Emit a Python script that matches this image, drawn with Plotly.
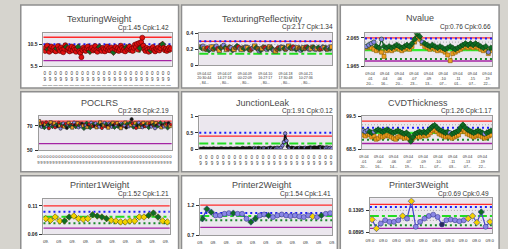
import numpy as np
import plotly.graph_objects as go

W, H = 508, 249

# ---------------- data ----------------
titles = ["TexturingWeight", "TexturingReflectivity", "Nvalue",
          "POCLRS", "JunctionLeak", "CVDThickness",
          "Printer1Weight", "Printer2Weight", "Printer3Weight"]
cp_values = ["1.45", "2.17", "0.76", "2.58", "1.91", "1.26", "1.52", "1.54", "0.69"]
cpk_values = ["1.42", "1.34", "0.66", "2.19", "0.12", "1.17", "1.21", "1.41", "0.49"]

y_ranges = [[5.5, 13.0], [0, 0.4], [1.965, 2.081],
            [50, 78], [0, 1], [68.5, 99.5],
            [0.06, 0.122], [0.7, 1.297], [0.088, 0.167]]
y_ticks = [[5.5, 10.5], [0, 0.2, 0.4], [1.965, 2.065],
           [50, 70], [0, 0.5, 1], [68.5, 99.5],
           [0.06, 0.11], [0.7, 1.2], [0.0895, 0.1395]]

# control / spec limits per chart
usl = [12.1, 0.30, 2.065, 74.0, 0.40, 94.9, 0.110, 1.20, 0.153]
ucl = [10.5, 0.30, 2.063, None, 0.50, 88.6, 0.0997, 1.07, 0.147]
cl_dashdot = [None, 0.145, None, None, 0.18, None, 0.091, 1.02, 0.127]
cl_solid = [None, None, 2.022, None, None, 84.0, None, None, None]
lcl = [8.8, None, 1.991, None, None, 77.6, 0.0795, 0.95, 0.106]
lsl = [6.8, None, 1.984, 55.6, None, 74.0, 0.071, 0.83, 0.099]
ref_lines = [[], [0.26, 0.17], [2.05], [], [], [91.5], [], [], [0.1395, 0.117]]

p1_vals = [9.6, 9.0, 9.8, 10.2, 9.3, 8.8, 9.5, 10.0, 9.2, 9.7, 9.1, 8.9, 9.6, 10.1, 9.4, 9.0, 9.8, 9.3, 8.7, 9.5,
           10.3, 9.9, 9.2, 9.6, 8.9, 9.4, 10.0, 9.1, 9.7, 9.3, 8.8, 9.5, 9.9, 9.0, 8.6, 7.6, 9.2, 9.8, 9.4, 9.0,
           9.6, 10.0, 9.3, 8.9, 9.5, 9.8, 9.1, 9.4, 10.1, 9.2, 8.8, 9.6, 9.9, 9.3, 9.0, 9.7, 9.4, 8.9, 9.5, 10.0,
           9.2, 9.6, 9.1, 9.8, 9.3, 8.7, 9.5, 9.9, 9.2, 9.6, 9.0, 9.4, 10.2, 9.7, 9.1, 9.5, 8.9, 9.8, 9.3, 9.6,
           10.0, 9.2, 9.5, 9.0, 9.7, 10.4, 9.9, 10.6, 9.3, 10.8, 9.6, 11.0, 12.0, 10.2, 9.4, 9.0, 9.7, 9.3, 8.8, 9.5,
           9.1, 9.6, 9.9, 9.2, 8.9, 9.5, 9.3, 9.8, 9.1, 9.6, 10.3, 10.5, 9.7, 9.2, 9.5, 9.0, 9.4, 9.8, 9.3, 9.6]
p1_grp = "RRRRGRRRRRRRGRRRRRRRRGRRRRRRRRRRGRRRRRRRRRRGRRRRRRRRGRRRRRRRRRRRRGRRRRRRRRRRRGRRRRRRRRRRRRGRRRRRRRRRGRRRRRRRRRRGRRRRRRRRRRRR"
p1_xlabels = ["0<br>9<br>—"] * 24

p2_vals = [0.23, 0.22, 0.24, 0.21, 0.20, 0.22, 0.19, 0.21, 0.23, 0.20, 0.22, 0.24, 0.21, 0.19, 0.22, 0.23, 0.25, 0.22,
           0.20, 0.21, 0.23, 0.22, 0.19, 0.20, 0.22, 0.24, 0.23, 0.21, 0.20, 0.22, 0.21, 0.23, 0.22, 0.20, 0.19, 0.21,
           0.22, 0.24, 0.22, 0.21, 0.18, 0.19, 0.21, 0.23, 0.22, 0.20, 0.21, 0.23, 0.22, 0.20, 0.19, 0.18, 0.20, 0.22,
           0.21, 0.23, 0.22, 0.21, 0.20, 0.22, 0.24, 0.22, 0.21, 0.23, 0.21, 0.20, 0.22, 0.21, 0.19, 0.20, 0.22, 0.21,
           0.23, 0.22, 0.20, 0.21, 0.23, 0.22, 0.20, 0.21, 0.22, 0.20, 0.21, 0.23, 0.22, 0.21, 0.20, 0.22, 0.21, 0.23]
p2_grp = "BGPOBRGPOBGPROGBPGORBPGOBGRPOBGPOGBRPOGBPGOBRPGOBGPOBRGPOGBPOGBRPGOBPGOBRGPOBGPOGBRPOGBPGOBRGP"
p2_xlabels = ["09.04.02<br>20:30:44<br>, 84...", "09.04.07<br>14:27:18<br>, 80...",
              "09.04.09<br>00:22:09<br>, 80...", "09.04.10<br>16:27:17<br>, 80...",
              "09.04.18<br>17:30:48<br>, 80...", "09.04.21<br>10:27:36<br>, 80..."]

p3_main = [2.035, 2.04, 2.045, 2.05, 2.035, 2.03, 2.06, 2.035, 2.03, 2.035, 2.03, 2.035, 2.04, 2.035, 2.03, 2.035,
           2.04, 2.035, 2.045, 2.06, 2.08, 2.07, 2.05, 2.045, 2.04, 2.035, 2.04, 2.035, 2.03, 2.035, 2.03, 2.025,
           2.03, 2.035, 2.03, 2.025, 2.03, 2.035, 2.04, 2.045, 2.04, 2.045, 2.04, 2.045, 2.04, 2.035, 2.03, 2.035,
           2.015, 2.03]
p3_main_grp = "PPPPGGPGGGGGGGGGGGGGGGPGGGGGGGGGGGGGGGGGGGGGGGGGPG"
p3_second = [2.03, 2.035, 2.03, 2.025, 2.02, 2.025, 2.015, 2.0, 2.02, 2.025, 2.02, 2.025, 2.03, 2.025, 2.02, 2.025,
             2.03, 2.025, 2.035, 2.05, 2.07, 2.06, 2.045, 2.035, 2.03, 2.025, 2.03, 2.025, 2.02, 2.025, 2.02, 2.015,
             2.005, 1.985, 2.01, 2.015, 2.02, 2.025, 2.03, 2.035, 2.03, 2.035, 2.03, 2.035, 2.03, 2.025, 2.02, 2.025,
             2.01, 2.02]
p3_xlabels = ["09.04<br>.01<br>20...", "09.04<br>.04<br>16...", "09.04<br>.06<br>20...",
              "09.04<br>.07<br>23...", "09.04<br>.09<br>13...", "09.04<br>.10<br>07...",
              "09.04<br>.11<br>01...", "09.04<br>.15<br>07...", "09.04<br>.19<br>22..."]

p4_vals = [74.0, 70.5, 71.8, 69.2, 72.4, 70.1, 68.6, 71.3, 72.9, 69.8, 70.7, 68.1, 71.9, 73.0, 70.2, 69.4, 71.5, 72.2,
           68.9, 70.6, 71.1, 69.7, 72.6, 70.3, 67.8, 71.4, 70.0, 72.1, 69.5, 70.8, 71.7, 68.4, 70.9, 72.5, 69.9, 71.2,
           70.4, 68.7, 71.6, 72.8, 70.6, 69.3, 71.0, 72.3, 68.8, 70.5, 71.9, 69.6, 72.0, 70.2, 67.9, 71.3, 70.7, 72.4,
           69.1, 70.9, 71.5, 68.5, 72.7, 70.3, 69.8, 71.8, 70.1, 72.2, 68.9, 70.6, 71.4, 69.4, 72.9, 70.8, 68.3, 71.1,
           70.4, 72.5, 69.7, 71.6, 70.0, 68.6, 72.1, 70.9, 71.3, 69.2, 72.6, 70.5, 68.8, 71.7, 70.2, 72.3, 69.5, 71.0,
           70.7, 68.2, 72.0, 71.2, 69.9, 70.4, 72.8, 68.7, 71.5, 70.1, 69.6, 72.4, 70.8, 75.6, 71.9, 69.0, 70.6, 72.2,
           68.4, 71.1, 70.3, 72.7, 69.3, 70.9, 71.6, 68.9, 72.5, 70.0, 69.7, 71.4, 70.5, 72.1, 68.6, 71.8, 70.2, 69.4,
           72.9, 70.7, 71.2, 68.1, 72.3, 70.4, 69.8, 71.5, 70.9, 72.6, 68.8, 71.0, 70.1, 69.5, 72.0, 70.6, 71.7, 68.3,
           72.4, 70.8, 69.9, 71.3]
p4_grp = ("OGOPRKGORPGRKOPGRORPGKROPGRPOGRKPOGRGORPKGROPGRPKOGRPGOKRGPORGKPORGPOKRGOPRGKOPRGPOKGRPOGRKOP"
          "GRPOKGRPGOKRGPORGKPOGRPOKRGPOGRKPORGPOKGRPGOKRPGORGKPOR")
p4_xlabels = ["0<br>9"] * 45

p5_vals = [0.02, 0.01, 0.02, 0.03, 0.01, 0.02, 0.01, 0.02, 0.02, 0.01, 0.03, 0.02, 0.01, 0.02, 0.01, 0.02, 0.03, 0.02,
           0.01, 0.02, 0.02, 0.01, 0.02, 0.03, 0.02, 0.01, 0.02, 0.02, 0.03, 0.02, 0.01, 0.02, 0.04, 0.03, 0.02, 0.03,
           0.02, 0.04, 0.03, 0.02, 0.03, 0.04, 0.02, 0.03, 0.04, 0.03, 0.02, 0.03, 0.04, 0.03, 0.02, 0.03, 0.04, 0.05,
           0.03, 0.02, 0.04, 0.03, 0.05, 0.04, 0.03, 0.06, 0.12, 0.22, 0.48, 0.26, 0.09, 0.04, 0.03, 0.05, 0.04, 0.03,
           0.02, 0.04, 0.03, 0.05, 0.04, 0.03, 0.04, 0.05, 0.03, 0.04, 0.05, 0.06, 0.04, 0.05, 0.06, 0.05, 0.04, 0.06,
           0.07, 0.05, 0.06, 0.05, 0.04, 0.06, 0.05, 0.04, 0.05, 0.03]
p5_grp = ("KKKKKKKKKKKKKKKKKKKKKKKKKKKKKKKKKKKKKKKK"
          "KPKPKKPKPPKKPKPKKPPPPPPPPPKPPKKPKKKPKKKPKKKKPKKKKKKPKKPPPPPPPPPP")
p5_xlabels = ["0<br>9"] * 24

p6_main = [86, 85, 86, 85, 84, 85, 86, 87, 86, 85, 86, 87, 86, 85, 84, 85, 86, 85, 84, 83, 84, 82, 76, 80, 83, 84, 85,
           84, 85, 84, 86, 88, 90, 91, 89, 87, 86, 85, 84, 85, 84, 83, 84, 85, 86, 89, 91.5, 89, 87, 86, 85, 84, 85,
           86, 85, 84, 83, 84, 85, 86]
p6_main_grp = "PPPGGPGGGGGGGGGGGGGGGGGGGGGGGGGGGGGGGGGGPGGGGGGGGGGGGGGGPGG"
p6_second = [82, 81, 83, 82, 80, 81, 78, 79, 81, 80, 81, 82, 81, 80, 79, 78, 80, 81, 80, 79, 80, 79, 77, 79, 80, 81,
             80, 81, 82, 81, 82, 84, 86, 87, 85, 83, 82, 81, 80, 81, 80, 79, 80, 81, 82, 85, 87, 85, 83, 82, 81, 80,
             81, 82, 81, 80, 79, 80, 81, 82]
p6_xlabels = ["09.04<br>.01<br>20...", "09.04<br>.04<br>16...", "09.04<br>.06<br>14...",
              "09.04<br>.07<br>19...", "09.04<br>.09<br>11...", "09.04<br>.10<br>07...",
              "09.04<br>.11<br>03...", "09.04<br>.13<br>07...", "09.04<br>.19<br>22..."]

p7_vals = [0.0876, 0.0847, 0.0905, 0.0836, 0.0836, 0.0905, 0.0922, 0.0876, 0.0864, 0.0876, 0.0945, 0.0922, 0.0905,
           0.0876, 0.0847, 0.0836, 0.0818, 0.0818, 0.0836, 0.0836, 0.0905, 0.0905, 0.0933, 0.0974, 0.0905, 0.0836,
           0.0818]
p7_grp = "YYYYGGYYYYGGGGYYYYYYYYGGGYY"
p7_xlabels = ["09."] * 10

p8_vals = [0.974, 1.135, 1.082, 1.028, 1.028, 1.055, 1.066, 1.066, 1.055, 1.055, 0.974, 0.920, 0.974, 1.028, 1.044,
           1.028, 1.001, 1.028, 1.044, 1.028, 1.017, 1.028, 1.012, 1.001, 1.028, 1.012, 1.001, 1.028, 1.055, 1.066]
p8_grp = "GGGPPPPGPPPGGPPGPPPPPPPPPYPGPP"
p8_xlabels = ["09."] * 11

p9_vals = [0.1189, 0.0990, 0.1100, 0.1174, 0.1138, 0.1138, 0.1174, 0.1270, 0.1211, 0.1602, 0.1027, 0.1138, 0.1211,
           0.1270, 0.1300, 0.1248, 0.1079, 0.1174, 0.1189, 0.1174, 0.1152, 0.1174, 0.1211, 0.1270, 0.1123, 0.1359,
           0.1027, 0.1138]
p9_grp = "YYPPPPPYPYPPPPPPDPPPPPYYYGPY"
p9_xlabels = ["09.0"] * 10

# ---------------- layout / style ----------------
BG = "#d6d4ce"
FRAMES = [(17, 177, 2, 87), (180, 338, 2, 87), (341, 502, 2, 87),
          (17, 177, 91, 173), (180, 338, 91, 173), (341, 502, 91, 173),
          (17, 177, 177, 253), (180, 338, 177, 253), (341, 502, 177, 253)]
PLOTS = [(40, 170, 31, 65), (198, 333, 31, 64), (366, 495, 31, 65),
         (35, 170, 116, 151), (198, 333, 116, 150), (363, 495, 116, 150),
         (40, 168, 201, 237), (199, 333, 201, 238), (371, 495, 200, 236)]
TITLE_POS = [(97, 16, 168, 26), (262, 16, 335, 25), (422, 15, 495, 25),
             (97, 102, 168, 111), (263, 102, 335, 111), (420, 102, 496, 111),
             (97, 187, 168, 196), (262, 187, 333, 196), (421, 187, 493, 196)]
TICK_SPAN = [(0.01, 0.975), (0.037, 0.80), (0.04, 0.96),
             (0.0, 0.99), (0.01, 0.99), (0.015, 0.924),
             (0.02, 0.97), (0.0, 1.0), (0.0, 0.98)]
XFONT = [4.5, 3.6, 3.8, 4.2, 4.5, 3.8, 4.4, 4.4, 4.4]
XSTANDOFF = [2, 4, 3, 2, 3, 3, 2, 2, 2]

COLORS = {'R': '#e01010', 'G': '#0f6b24', 'Y': '#f4d200', 'O': '#f0a020', 'P': '#8a86e6',
          'B': '#8a5a10', 'K': '#111111', 'D': '#2a2a60'}
SYMBOLS = {'R': 'circle', 'G': 'diamond', 'Y': 'diamond', 'O': 'square', 'P': 'circle',
           'B': 'circle', 'K': 'circle', 'D': 'circle'}
FONT = "Liberation Sans, Arial, sans-serif"

fig = go.Figure()


def ax_suffix(i):
    return '' if i == 0 else str(i + 1)


def add_series(i, vals, grp, default, line_color, size, line_width=1.0, outline='#333333'):
    k = ax_suffix(i)
    g = (grp + default * len(vals))[:len(vals)]
    fig.add_trace(go.Scatter(
        x=list(range(len(vals))), y=vals, mode='lines+markers',
        xaxis='x' + k, yaxis='y' + k,
        line=dict(color=line_color, width=line_width),
        marker=dict(size=size, color=[COLORS[c] for c in g], symbol=[SYMBOLS[c] for c in g],
                    line=dict(color=outline, width=0.6)),
        hoverinfo='skip'))


add_series(0, p1_vals, p1_grp, 'R', '#d01010', 5, 1.0, '#600000')
add_series(1, p2_vals, p2_grp, 'B', '#4a3a20', 4.5, 1.0)
add_series(2, p3_second, "", 'O', '#d09030', 4, 0.8, '#8a5a00')
add_series(2, p3_main, p3_main_grp, 'G', '#0f5f20', 4.5, 1.3, '#0a3a10')
add_series(3, p4_vals, p4_grp, 'R', '#3a1a1a', 3.2, 0.6, '#222222')
add_series(4, p5_vals, p5_grp, 'K', '#111111', 3.5, 1.5, '#111111')
add_series(5, p6_second, "", 'O', '#d09030', 4, 0.8, '#8a5a00')
add_series(5, p6_main, p6_main_grp, 'G', '#0f5f20', 4.5, 1.3, '#0a3a10')
add_series(6, p7_vals, p7_grp, 'G', '#1d6a30', 5, 1.0, '#555500')
add_series(7, p8_vals, p8_grp, 'P', '#3535cc', 5, 1.2, '#3a3a90')
add_series(8, p9_vals, p9_grp, 'P', '#4848cc', 5, 1.2, '#3a3a90')

n_points = [len(p1_vals), len(p2_vals), len(p3_main), len(p4_vals), len(p5_vals),
            len(p6_main), len(p7_vals), len(p8_vals), len(p9_vals)]
xlabels = [p1_xlabels, p2_xlabels, p3_xlabels, p4_xlabels, p5_xlabels,
           p6_xlabels, p7_xlabels, p8_xlabels, p9_xlabels]

shapes = []
annotations = []
layout = dict(width=W, height=H, margin=dict(l=0, r=0, t=0, b=0),
              paper_bgcolor=BG, plot_bgcolor='rgba(0,0,0,0)', showlegend=False)

# panel frames
for (fx0, fx1, fyt, fyb) in FRAMES:
    shapes.append(dict(type='rect', xref='paper', yref='paper', x0=fx0 / W, x1=fx1 / W,
                       y0=1 - fyb / H, y1=1 - fyt / H, fillcolor='white',
                       line=dict(color='#8e8e8e', width=1.5), layer='below'))

LIMSTYLE = {
    'usl': dict(color='#ff2a2a', width=1.3),
    'ucl': dict(color='#1c1cff', width=2, dash='2px,3px'),
    'cld': dict(color='#22dd22', width=2, dash='dashdot'),
    'cls': dict(color='#33ee33', width=2.2),
    'lcl': dict(color='#1a8a2a', width=2, dash='2px,3px'),
    'lsl': dict(color='#a424a4', width=1.3),
    'ref': dict(color='#aaaaaa', width=1, dash='1px,2px'),
}

for i in range(9):
    k = ax_suffix(i)
    x0, x1, yt, yb = PLOTS[i]
    n = n_points[i]
    f0, f1 = TICK_SPAN[i]
    tv = list(np.linspace(-0.5 + f0 * n, -0.5 + f1 * n, len(xlabels[i])))
    layout['xaxis' + k] = dict(
        domain=[x0 / W, x1 / W], anchor='y' + k, range=[-0.5, n - 0.5],
        tickmode='array', tickvals=tv, ticktext=xlabels[i], tickangle=0,
        tickfont=dict(family=FONT, size=XFONT[i], color='#333333'),
        ticklabelstandoff=XSTANDOFF[i],
        showgrid=False, zeroline=False, showline=True, mirror=True,
        linecolor='#9c9c9c', linewidth=1, ticks='')
    layout['yaxis' + k] = dict(
        domain=[1 - yb / H, 1 - yt / H], anchor='x' + k, range=y_ranges[i],
        tickmode='array', tickvals=y_ticks[i], ticktext=[str(v) for v in y_ticks[i]],
        tickfont=dict(family=FONT, size=5, color='#222222', weight='bold'),
        ticks='outside', ticklen=3, tickcolor='#333333', tickwidth=1,
        ticklabelstandoff=1,
        showgrid=False, zeroline=False, showline=True, mirror=True,
        linecolor='#9c9c9c', linewidth=1)
    # plot background
    shapes.append(dict(type='rect', xref='x' + k + ' domain', yref='y' + k + ' domain',
                       x0=0, x1=1, y0=0, y1=1, fillcolor='#ebe7ee', line=dict(width=0), layer='below'))

    def hline(v, style):
        if v is None:
            return
        shapes.append(dict(type='line', xref='x' + k + ' domain', yref='y' + k,
                           x0=0, x1=1, y0=v, y1=v, line=LIMSTYLE[style], layer='below'))

    for r in ref_lines[i]:
        hline(r, 'ref')
    hline(lsl[i], 'lsl')
    hline(lcl[i], 'lcl')
    hline(cl_solid[i], 'cls')
    hline(cl_dashdot[i], 'cld')
    hline(usl[i], 'usl')
    hline(ucl[i], 'ucl')

    cx, cy, rx, ry = TITLE_POS[i]
    annotations.append(dict(text=titles[i], x=cx / W, y=1 - cy / H, xref='paper', yref='paper',
                            xanchor='center', yanchor='middle', showarrow=False, borderpad=0,
                            font=dict(family=FONT, size=9, color='#4a4a4a')))
    annotations.append(dict(text="Cp:%s Cpk:%s" % (cp_values[i], cpk_values[i]),
                            x=rx / W, y=1 - ry / H, xref='paper', yref='paper',
                            xanchor='right', yanchor='middle', showarrow=False, borderpad=0,
                            font=dict(family=FONT, size=6.5, color='#333333')))

layout['shapes'] = shapes
layout['annotations'] = annotations
fig.update_layout(**layout)
fig.write_html("out.html", config={'displayModeBar': False, 'staticPlot': True},
               post_script="document.body.style.margin='0';document.body.style.overflow='hidden';")
